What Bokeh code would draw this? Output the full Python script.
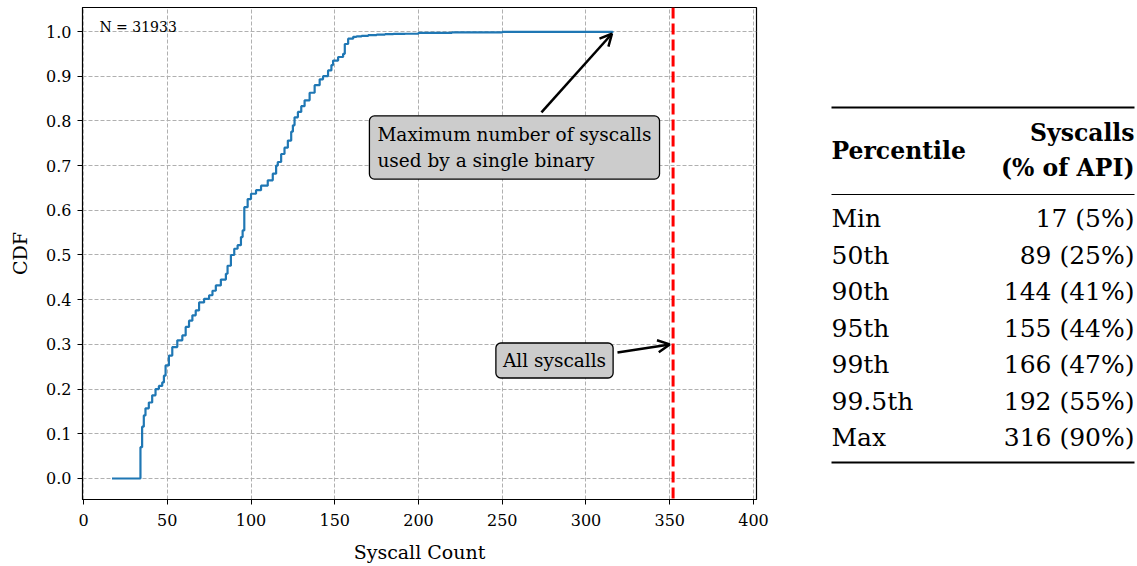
from bokeh.plotting import figure
from bokeh.models import (Range1d, FixedTicker, NumeralTickFormatter, Span, Label,
                          Arrow, OpenHead, ColumnDataSource)
from bokeh.layouts import row
from bokeh.embed import file_html
from bokeh.resources import INLINE
from bokeh.core.properties import value

# ---------------- data ----------------
syscall_count = [17, 34, 35, 36, 37, 39, 41, 43, 45, 47, 48, 49, 51, 53, 56, 59, 61, 63, 65, 67,
                 69, 72, 75, 77, 79, 82, 85, 86, 88, 90, 92, 94, 95, 96, 98, 100, 103, 106, 110,
                 113, 115, 116, 118, 120, 122, 124, 125, 126, 128, 130, 132, 135, 138, 141, 143,
                 146, 148, 149, 152, 155, 156, 158, 161, 163, 166, 170, 175, 180, 185, 192, 200,
                 220, 250, 316]
cdf = [0.0, 0.07, 0.116, 0.141, 0.157, 0.170, 0.186, 0.200, 0.207, 0.215, 0.230, 0.253, 0.275,
       0.294, 0.309, 0.320, 0.339, 0.353, 0.365, 0.376, 0.394, 0.402, 0.410, 0.420, 0.432, 0.445,
       0.458, 0.476, 0.500, 0.514, 0.522, 0.540, 0.555, 0.607, 0.625, 0.637, 0.645, 0.655, 0.667,
       0.682, 0.700, 0.708, 0.726, 0.740, 0.756, 0.776, 0.790, 0.808, 0.820, 0.833, 0.846, 0.863,
       0.880, 0.893, 0.900, 0.913, 0.925, 0.935, 0.943, 0.950, 0.972, 0.984, 0.988, 0.989, 0.990,
       0.992, 0.993, 0.994, 0.9945, 0.995, 0.997, 0.998, 0.999, 1.0]
n_binaries = 31933
all_syscalls = 352

x_ticks = [0, 50, 100, 150, 200, 250, 300, 350, 400]
y_ticks = [0.0, 0.1, 0.2, 0.3, 0.4, 0.5, 0.6, 0.7, 0.8, 0.9, 1.0]

table_percentiles = ["Min", "50th", "90th", "95th", "99th", "99.5th", "Max"]
table_syscalls = [17, 89, 144, 155, 166, 192, 316]
table_pct_api = [5, 25, 41, 44, 47, 55, 90]
table_header = ["Percentile", "Syscalls", "(% of API)"]

FONT = "DejaVu Serif"

# ---------------- CDF plot ----------------
p = figure(width=770, height=566, output_backend="svg", toolbar_location=None,
           x_range=Range1d(-0.6, 401.8), y_range=Range1d(-0.047, 1.0537),
           min_border_left=82, min_border_right=14, min_border_top=7, min_border_bottom=67)
p.background_fill_color = "white"
p.border_fill_color = "white"
p.outline_line_color = "black"
p.outline_line_width = 1.2

p.xaxis.ticker = FixedTicker(ticks=x_ticks)
p.yaxis.ticker = FixedTicker(ticks=y_ticks)
p.yaxis.formatter = NumeralTickFormatter(format="0.0")
for ax in (p.xaxis, p.yaxis):
    ax.major_tick_out = 5
    ax.major_tick_in = 0
    ax.minor_tick_line_color = None
    ax.axis_line_color = "black"
    ax.major_tick_line_color = "black"
    ax.major_label_text_font = FONT
    ax.major_label_text_font_size = "16px"
    ax.major_label_text_color = "black"
    ax.axis_label_text_font = FONT
    ax.axis_label_text_font_size = "19px"
    ax.axis_label_text_font_style = "normal"
    ax.axis_label_text_color = "black"
p.xaxis.axis_label = "Syscall Count"
p.yaxis.axis_label = "CDF"
p.xaxis.major_label_standoff = 9
p.yaxis.major_label_standoff = 6
p.xaxis.axis_label_standoff = 12
p.yaxis.axis_label_standoff = 12

p.grid.grid_line_color = "#b0b0b0"
p.grid.grid_line_dash = "4 2"
p.grid.grid_line_width = 1

p.step(syscall_count, cdf, mode="after", line_color="#1f77b4", line_width=2.2)

p.add_layout(Span(location=all_syscalls, dimension="height", line_color="red",
                  line_dash="11 5", line_width=3))

p.add_layout(Label(x=9.5, y=1.009, text=f"N = {n_binaries}", text_font=FONT,
                   text_font_size="14px", text_baseline="middle", text_align="left",
                   text_color="black"))

p.add_layout(Arrow(x_start=273.4, y_start=0.819, x_end=max(syscall_count) - 0.5, y_end=0.995,
                   line_width=2.5, line_color="black",
                   end=OpenHead(size=12, line_width=2.5, line_color="black")))
p.add_layout(Arrow(x_start=318.8, y_start=0.282, x_end=all_syscalls - 2, y_end=0.300,
                   line_width=2.5, line_color="black",
                   end=OpenHead(size=12, line_width=2.5, line_color="black")))

p.add_layout(Label(x=170.7, y=0.7405, text="Maximum number of syscalls\nused by a single binary",
                   text_font=FONT, text_font_size="18.5px", text_align="left",
                   text_baseline="middle", text_line_height=1.25, text_color="black",
                   background_fill_color="#cccccc", border_line_color="black",
                   border_line_width=1.3, padding=8, border_radius=5))
p.add_layout(Label(x=281.2, y=0.264, text="All syscalls",
                   text_font=FONT, text_font_size="18.5px", text_align="center",
                   text_baseline="middle", text_color="black",
                   background_fill_color="#cccccc", border_line_color="black",
                   border_line_width=1.3, padding=7, border_radius=5))

# ---------------- table ----------------
# y range expressed in page pixels (frame spans page rows 7..499, aligned with the plot)
t = figure(width=367, height=566, output_backend="svg", toolbar_location=None,
           x_range=Range1d(0, 367), y_range=Range1d(499, 7),
           x_axis_type=None, y_axis_type=None,
           min_border_left=0, min_border_right=0, min_border_top=7, min_border_bottom=67)
t.outline_line_color = None
t.grid.visible = False
t.background_fill_color = "white"
t.border_fill_color = "white"

left_x, right_x = 61, 364
top_rule, mid_rule, bottom_rule = 107, 194, 462
row0, row_step = 218, 36.5

t.segment(x0=[left_x, left_x, left_x], y0=[top_rule, mid_rule, bottom_rule],
          x1=[right_x, right_x, right_x], y1=[top_rule, mid_rule, bottom_rule],
          line_color="black", line_width=[2.2, 1.2, 2.2])

t.text(x=[left_x], y=[150], text=[table_header[0]], text_font=value(FONT),
       text_font_style="bold", text_font_size="23.5px", text_align="left",
       text_baseline="middle", text_color="black")
t.text(x=[right_x, right_x], y=[132, 167], text=table_header[1:], text_font=value(FONT),
       text_font_style="bold", text_font_size="23.5px", text_align="right",
       text_baseline="middle", text_color="black")

rows_y = [row0 + i * row_step for i in range(len(table_percentiles))]
src = ColumnDataSource(dict(
    y=rows_y,
    xl=[left_x] * len(rows_y),
    xr=[right_x] * len(rows_y),
    name=table_percentiles,
    val=[f"{s} ({pc}%)" for s, pc in zip(table_syscalls, table_pct_api)],
))
t.text(x="xl", y="y", text="name", source=src, text_font=value(FONT),
       text_font_size="25px", text_align="left", text_baseline="middle", text_color="black")
t.text(x="xr", y="y", text="val", source=src, text_font=value(FONT),
       text_font_size="25px", text_align="right", text_baseline="middle", text_color="black")

layout = row(p, t)
open("out.html", "w").write(file_html(layout, INLINE))
